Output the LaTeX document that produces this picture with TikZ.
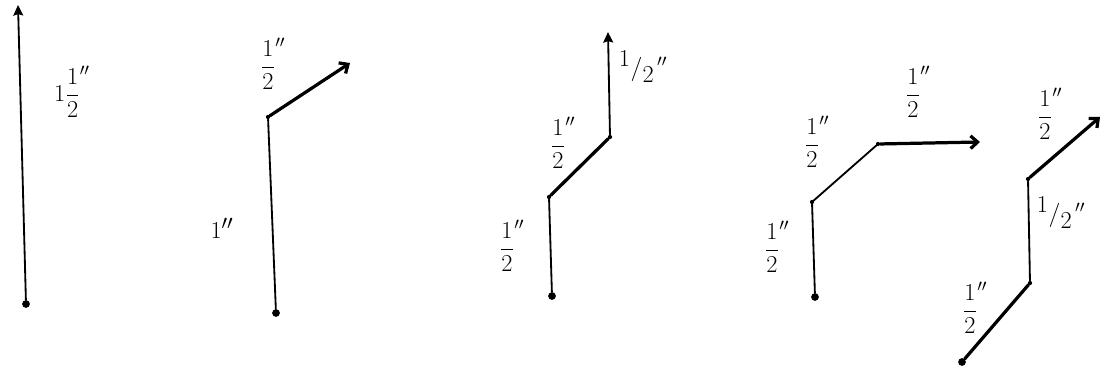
\documentclass[tikz,border=0pt]{standalone}
\usetikzlibrary{arrows.meta}
\newcommand{\half}{\displaystyle\frac{1}{2}^{\prime\prime}}
\newcommand{\slhalf}{{}^{\textstyle 1}{/}_{\textstyle 2}{}^{\,\prime\prime}}
\begin{document}
\begin{tikzpicture}[x=0.025cm,y=-0.025cm,line cap=round,line join=round,
  start/.style={circle,fill,inner sep=0pt,minimum size=5.5pt},
  kink/.style={circle,fill,inner sep=0pt,minimum size=3pt},
  lbl/.style={inner sep=0pt,font=\fontsize{17}{20}\selectfont},
  fine/.style={line width=1.3pt},
  heavy/.style={line width=2.3pt},
  solid tip/.style={-{Stealth[length=7.5pt,width=7pt,inset=1pt]}},
  open tip/.style={-{Straight Barb[length=5pt,width=9pt]}}]
 \useasboundingbox (0,0) rectangle (1110,372);
 % one and a half inch
 \node[start] (a0) at (26,304) {};
 \coordinate (a1) at (18,5);
 \draw[fine,solid tip] (a0) -- (a1);
 \node[lbl] (la) at (72,92) {$1\half$};
 % one inch, then half inch
 \node[lbl,font=\fontsize{19}{22}\selectfont] (lb1) at (222,228) {$1^{\prime\prime}$};
 \node[start] (b0) at (276,313) {};
 \node[kink] (b1) at (268,117) {};
 \coordinate (b2) at (350,63);
 \draw[fine] (b0) -- (b1);
 \draw[heavy,open tip] (b1) -- (b2);
 \node[lbl] (lb2) at (273,64) {$\half$};
 % three halves
 \node[start] (c0) at (552,296) {};
 \node[kink] (c1) at (549,197) {};
 \node[kink] (c2) at (610,137) {};
 \coordinate (c3) at (608,32);
 \draw[fine] (c0) -- (c1);
 \draw[heavy] (c1) -- (c2);
 \draw[fine,solid tip] (c2) -- (c3);
 \node[lbl] (lc1) at (512,246) {$\half$};
 \node[lbl] (lc2) at (563,143) {$\half$};
 \node[lbl] (lc3) at (643,67) {$\slhalf$};
 % up, across, right
 \node[start] (d0) at (815,297) {};
 \node[kink] (d1) at (812,202) {};
 \node[kink] (d2) at (878,144) {};
 \coordinate (d3) at (980,142);
 \draw[fine] (d0) -- (d1);
 \draw[fine] (d1) -- (d2);
 \draw[heavy,open tip] (d2) -- (d3);
 \node[lbl] (ld1) at (777,247) {$\half$};
 \node[lbl] (ld2) at (817,142) {$\half$};
 \node[lbl] (ld3) at (918,92) {$\half$};
 % slanted, up, slanted
 \node[start] (e0) at (962,362) {};
 \node[kink] (e1) at (1030,283) {};
 \node[kink] (e2) at (1028,179) {};
 \coordinate (e3) at (1100,117);
 \draw[heavy] (e0) -- (e1);
 \draw[fine] (e1) -- (e2);
 \draw[heavy,open tip] (e2) -- (e3);
 \node[lbl] (le1) at (975,308) {$\half$};
 \node[lbl] (le2) at (1061,213) {$\slhalf$};
 \node[lbl] (le3) at (1050,114) {$\half$};
\end{tikzpicture}
\end{document}
